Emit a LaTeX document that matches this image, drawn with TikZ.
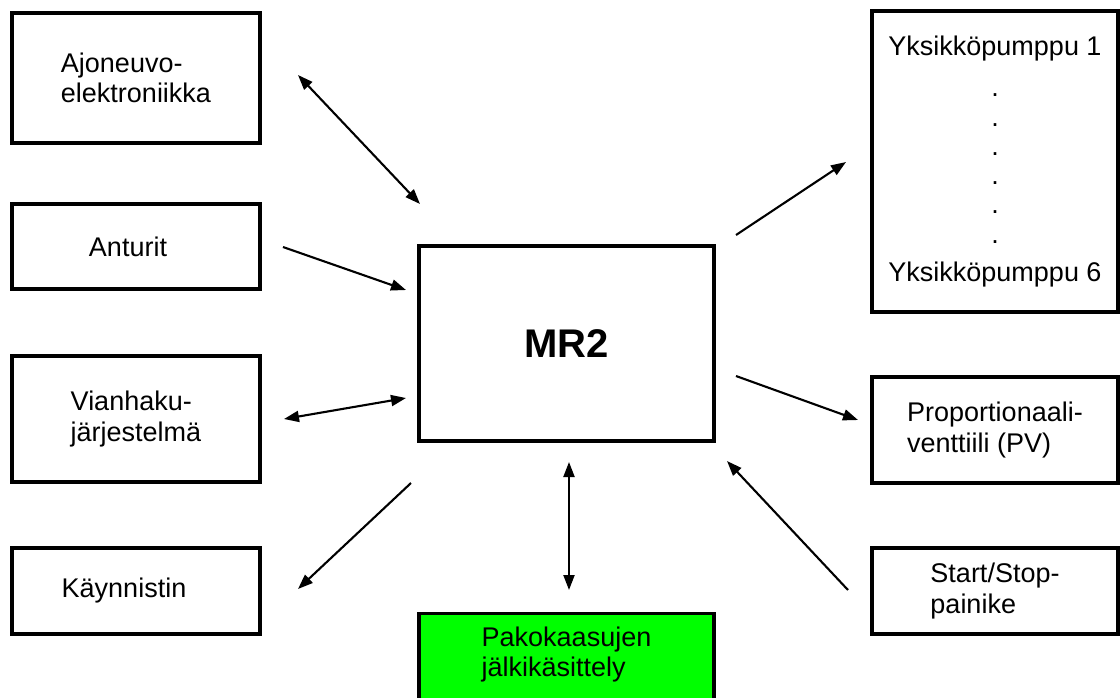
\documentclass[tikz,border=0pt]{standalone}
\usepackage{fontspec}
\setmainfont{Liberation Sans}
\usetikzlibrary{arrows.meta}
\definecolor{aftergreen}{RGB}{0,255,0}
\begin{document}
\begin{tikzpicture}[x=1pt,y=-1pt,
  box/.style={draw=black, line width=3.4pt, fill=white, inner sep=0pt,
    align=left, font=\fontsize{27}{30.5}\selectfont},
  leftbox/.style={box, minimum width=248pt},
  rightbox/.style={box, minimum width=246pt},
  link/.style={line width=2.1pt, -{Triangle[length=15pt,width=11pt]}},
  both/.style={line width=2.1pt, {Triangle[length=15pt,width=11pt]}-{Triangle[length=15pt,width=11pt]}}]

\useasboundingbox[fill=white] (0,0) rectangle (1120,697);

% left column
\node[leftbox, minimum height=130pt] (ajo) at (136,78) {Ajoneuvo-\\elektroniikka};
\node[leftbox, minimum height=85pt]  (ant) at (136,246.5) {Anturit\hspace*{16pt}};
\node[leftbox, minimum height=126pt] (via) at (136,419) {Vianhaku-\\järjestelmä};
\node[leftbox, minimum height=86pt]  (kay) at (136,591) {Käynnistin\hspace*{24pt}};

% control unit
\node[box, minimum width=295pt, minimum height=195pt,
  font=\fontsize{40}{44}\bfseries] (mr2) at (566.5,343.5) {MR2};

% exhaust aftertreatment, running off the lower edge
\node[box, fill=aftergreen, minimum width=295pt, anchor=north,
  inner ysep=13pt, text depth=28pt] (pako) at (566.5,612)
  {Pakokaasujen\\jälkikäsittely};

% right column
\node[rightbox, minimum height=301pt, align=center,
  font=\fontsize{27}{29.3}\selectfont] (ykp) at (995,161.5)
  {Yksikköpumppu 1\\[11.5pt] .\\ .\\ .\\ .\\ .\\ .\\[8.5pt] Yksikköpumppu 6};
\node[rightbox, minimum height=106pt] (pv) at (995,430) {Proportionaali-\\venttiili (PV)};
\node[rightbox, minimum height=86pt]  (ss) at (995,591) {Start/Stop-\\painike};

% connector end points
\coordinate (ajoA) at (298,75);   \coordinate (ajoB) at (420,204);
\coordinate (antA) at (283,247);  \coordinate (antB) at (406,290);
\coordinate (viaA) at (284,419);  \coordinate (viaB) at (406,398);
\coordinate (kayA) at (411,483);  \coordinate (kayB) at (298,589);
\coordinate (pakoA) at (569,462); \coordinate (pakoB) at (569,590);
\coordinate (ssA) at (848,590);   \coordinate (ssB) at (727,461);
\coordinate (pvA) at (736,376);   \coordinate (pvB) at (858,420);
\coordinate (ykpA) at (736,235);  \coordinate (ykpB) at (846,162);

% connectors
\draw[both] (ajoA) -- (ajoB);
\draw[link] (antA) -- (antB);
\draw[both] (viaA) -- (viaB);
\draw[link] (kayA) -- (kayB);
\draw[both] (pakoA) -- (pakoB);
\draw[link] (ssA) -- (ssB);
\draw[link] (pvA) -- (pvB);
\draw[link] (ykpA) -- (ykpB);
\end{tikzpicture}
\end{document}
